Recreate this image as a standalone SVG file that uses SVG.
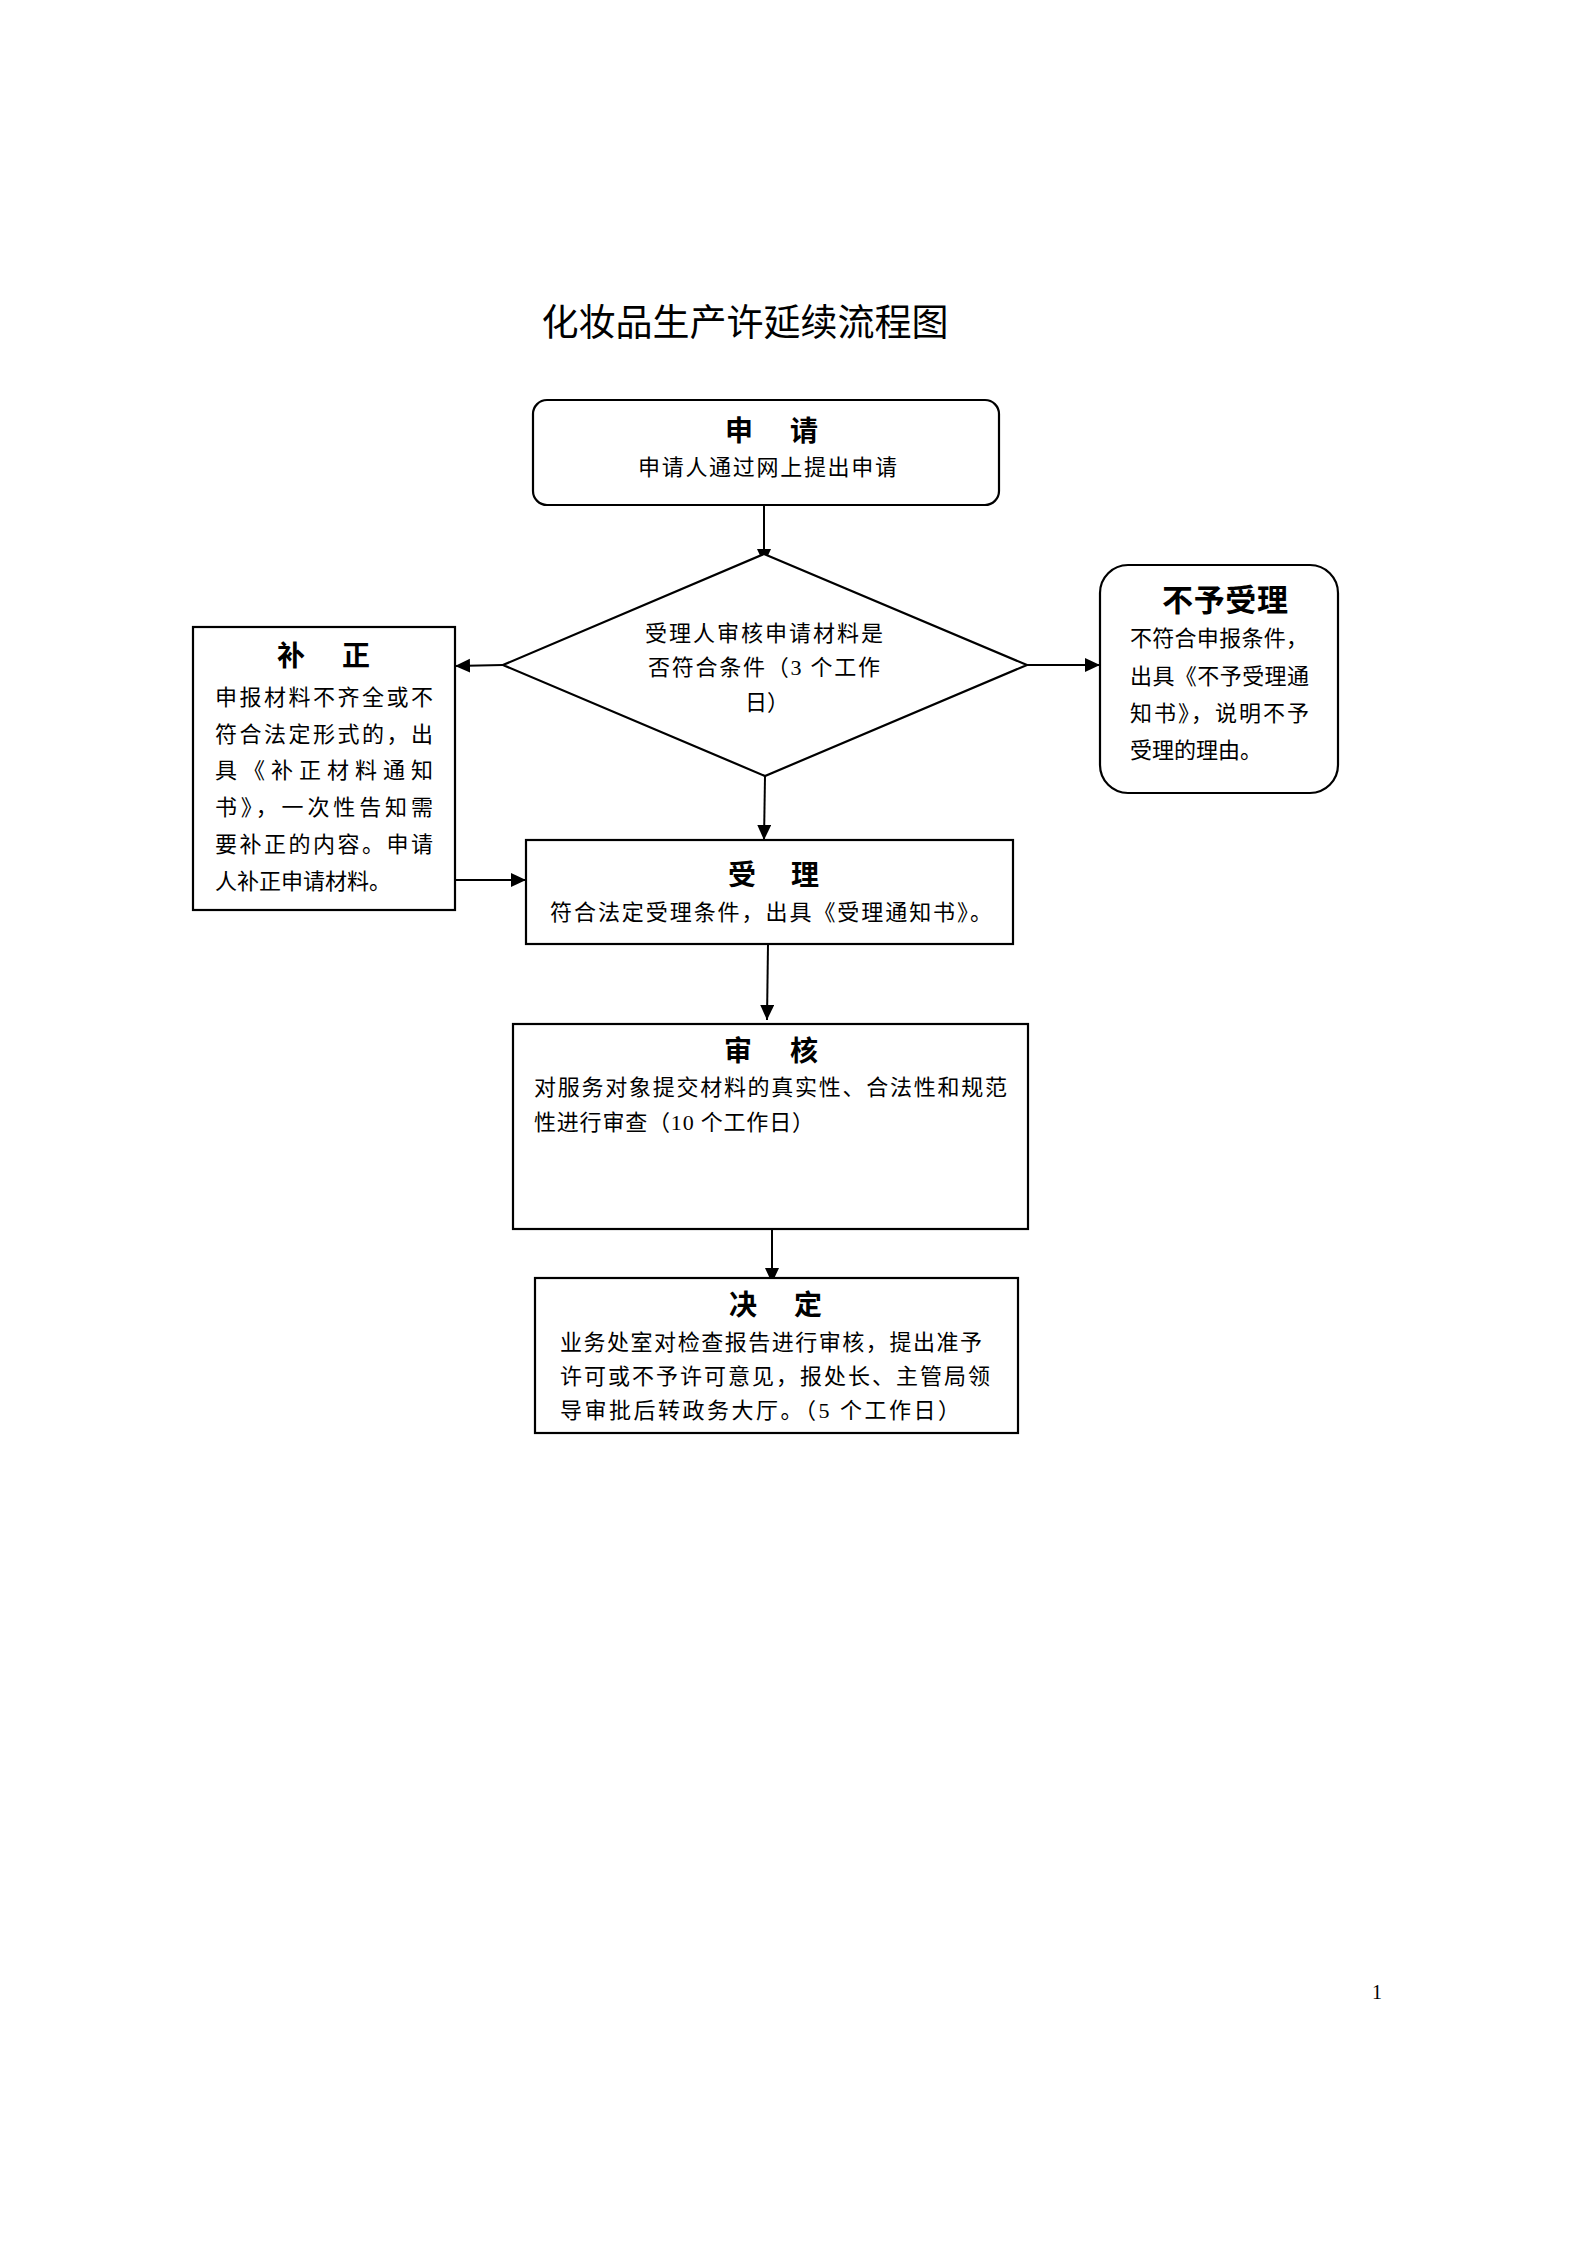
<svg xmlns="http://www.w3.org/2000/svg" width="1587" height="2245" viewBox="0 0 1587 2245">
<style>
.box{fill:#fff;stroke:#000;stroke-width:2.2}
.t{font-family:"Liberation Serif","Noto Sans CJK SC",serif;font-size:22px;fill:#000}
.h{font-family:"Liberation Serif","Noto Sans CJK SC",serif;font-size:28px;font-weight:bold;fill:#000}
.c{fill:none;stroke:#000;stroke-width:2}
</style>
<defs>
<marker id="arr" markerUnits="userSpaceOnUse" markerWidth="18" markerHeight="16" refX="15" refY="7" orient="auto">
<path d="M0,0 L15,7 L0,14 z" fill="#000"/>
</marker>
</defs>
<rect width="1587" height="2245" fill="#fff"/>
<text x="745" y="336" text-anchor="middle" style="font-family:'Noto Sans CJK SC',sans-serif;font-size:37px;fill:#000">化妆品生产许延续流程图</text>

<g id="connectors">
<line class="c" x1="764" y1="505" x2="764" y2="564" marker-end="url(#arr)"/>
<line class="c" x1="765" y1="776" x2="764" y2="840" marker-end="url(#arr)"/>
<line class="c" x1="503" y1="665" x2="455" y2="666" marker-end="url(#arr)"/>
<line class="c" x1="1027" y1="665" x2="1100" y2="665" marker-end="url(#arr)"/>
<line class="c" x1="455" y1="880" x2="526" y2="880" marker-end="url(#arr)"/>
<line class="c" x1="768" y1="944" x2="767" y2="1020" marker-end="url(#arr)"/>
<line class="c" x1="772" y1="1225" x2="772" y2="1283" marker-end="url(#arr)"/>
</g>

<g id="apply">
<rect class="box" x="533" y="400" width="466" height="105" rx="14"/>
<text class="h"><tspan x="725" y="441">申</tspan><tspan x="790" y="441">请</tspan></text>
<text class="t" x="638" y="475" textLength="259" lengthAdjust="spacing">申请人通过网上提出申请</text>
</g>

<g id="check">
<polygon class="box" points="764,554 1027,665 765,776 503,665"/>
<text class="t" x="645" y="641" textLength="238" lengthAdjust="spacing">受理人审核申请材料是</text>
<text class="t" x="648" y="675" textLength="232" lengthAdjust="spacing">否符合条件（3 个工作</text>
<text class="t" x="745" y="710">日）</text>
</g>

<g id="reject">
<rect class="box" x="1100" y="565" width="238" height="228" rx="28"/>
<text class="h" x="1162" y="611" style="font-size:31px" textLength="126" lengthAdjust="spacing">不予受理</text>
<text class="t" x="1130" y="646" textLength="178" lengthAdjust="spacing">不符合申报条件，</text>
<text class="t" x="1130" y="684" textLength="179" lengthAdjust="spacing">出具《不予受理通</text>
<text class="t" x="1130" y="721" textLength="179" lengthAdjust="spacing">知书》，说明不予</text>
<text class="t" x="1130" y="758">受理的理由。</text>
</g>

<g id="correct">
<rect class="box" x="193" y="627" width="262" height="283"/>
<text class="h"><tspan x="277" y="666">补</tspan><tspan x="342" y="666">正</tspan></text>
<text class="t" x="215" y="705" textLength="218" lengthAdjust="spacing">申报材料不齐全或不</text>
<text class="t" x="215" y="742" textLength="218" lengthAdjust="spacing">符合法定形式的，出</text>
<text class="t" x="215" y="778" textLength="218" lengthAdjust="spacing">具《补正材料通知</text>
<text class="t" x="215" y="815" textLength="218" lengthAdjust="spacing">书》，一次性告知需</text>
<text class="t" x="215" y="852" textLength="218" lengthAdjust="spacing">要补正的内容。申请</text>
<text class="t" x="215" y="889">人补正申请材料。</text>
</g>

<g id="accept">
<rect class="box" x="526" y="840" width="487" height="104"/>
<text class="h"><tspan x="728" y="885">受</tspan><tspan x="791" y="885">理</tspan></text>
<text class="t" x="550" y="920" textLength="442" lengthAdjust="spacing">符合法定受理条件，出具《受理通知书》。</text>
</g>

<g id="review">
<rect class="box" x="513" y="1024" width="515" height="205"/>
<text class="h"><tspan x="724" y="1061">审</tspan><tspan x="790" y="1061">核</tspan></text>
<text class="t" x="534" y="1095" textLength="473" lengthAdjust="spacing">对服务对象提交材料的真实性、合法性和规范</text>
<text class="t" x="534" y="1130" textLength="280" lengthAdjust="spacing">性进行审查（10 个工作日）</text>
</g>

<g id="decide">
<rect class="box" x="535" y="1278" width="483" height="155"/>
<text class="h"><tspan x="729" y="1315">决</tspan><tspan x="794" y="1315">定</tspan></text>
<text class="t" x="560" y="1350" textLength="422" lengthAdjust="spacing">业务处室对检查报告进行审核，提出准予</text>
<text class="t" x="560" y="1384" textLength="430" lengthAdjust="spacing">许可或不予许可意见，报处长、主管局领</text>
<text class="t" x="560" y="1418" textLength="400" lengthAdjust="spacing">导审批后转政务大厅。（5 个工作日）</text>
</g>

<text x="1372" y="1999" style="font-family:'Liberation Serif',serif;font-size:20px;fill:#000">1</text>
</svg>
